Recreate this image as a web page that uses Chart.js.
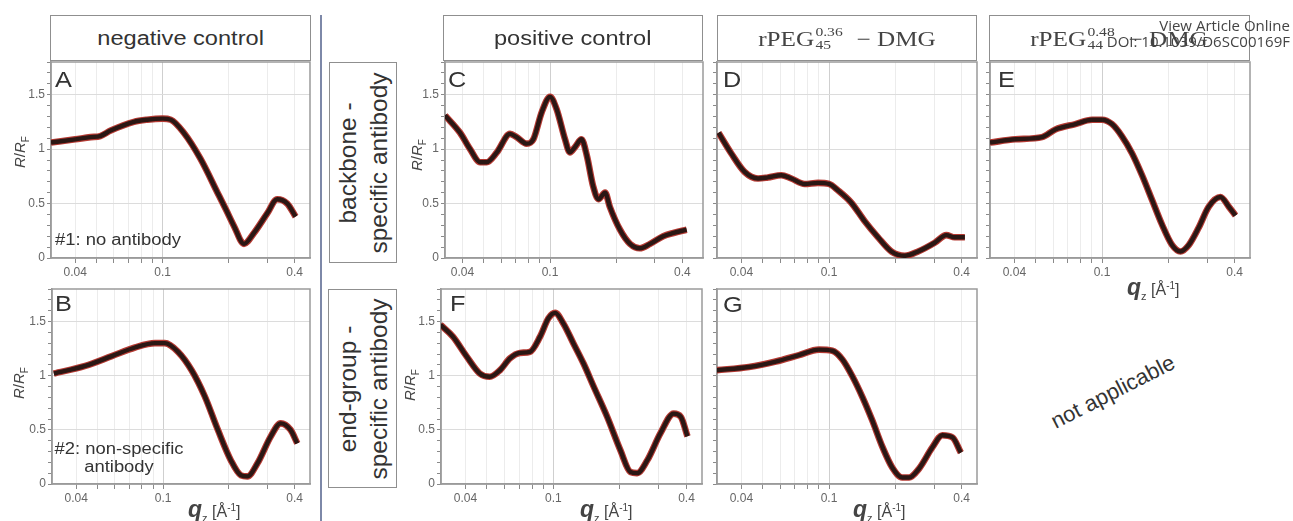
<!DOCTYPE html>
<html><head><meta charset="utf-8">
<script src="https://cdn.jsdelivr.net/npm/chart.js@4.4.1/dist/chart.umd.min.js"></script>
<style>
html,body{margin:0;padding:0;background:#fff}
body{width:1293px;height:521px;position:relative;overflow:hidden;font-family:"Liberation Sans",Arial,sans-serif;color:#333}
canvas{position:absolute}
.hbox{position:absolute;top:15px;height:46px;box-sizing:border-box;border:1.5px solid #8f8f8f;display:flex;align-items:center;justify-content:center;font-size:20px;color:#333;background:#fff}
.hbox .s{display:inline-block;transform:scaleX(1.18)}
.ser{font-family:"Liberation Serif","DejaVu Serif",serif;font-size:21px;color:#444;display:inline-block;transform:scaleX(1.2);white-space:nowrap}
.ss{position:relative;display:inline-block;width:27px;height:21px;margin:0 2px 0 1px}
.ss .sp,.ss .sb{position:absolute;left:0;font-size:13px;line-height:13px}
.ss .sp{top:0px}
.ss .sb{top:13px}
.rbox{position:absolute;box-sizing:border-box;border:1.5px solid #8f8f8f;background:#fff}
.rbox div{position:absolute;left:50%;top:50%;transform:translate(-50%,-50%) rotate(-90deg);text-align:center;font-size:24.5px;line-height:31px;white-space:nowrap;color:#333}
.letter{position:absolute;font-size:22px;line-height:22px;color:#333;transform:scaleX(1.15);transform-origin:left top}
.note{position:absolute;font-size:16px;line-height:18px;color:#333;white-space:nowrap}
.ytitle{position:absolute;font-size:15px;color:#444;transform:translate(-50%,-50%) rotate(-90deg);white-space:nowrap}
.ytitle sub{font-size:10px}
.xtitle{position:absolute;font-size:16px;color:#444;white-space:nowrap;line-height:24px}
.xtitle .q{font-size:23px;font-style:italic;font-weight:bold}
.xtitle sub{font-size:11px}
.xtitle sup{font-size:10px}
.wm{position:absolute;right:3px;top:17px;text-align:right;font-family:"Open Sans","Noto Sans",sans-serif;font-size:15px;line-height:16px;color:#444}
.na{position:absolute;left:1113px;top:392px;transform:translate(-50%,-50%) rotate(-27deg);font-size:22px;color:#333;white-space:nowrap}
.divider{position:absolute;left:320px;top:15px;width:1.5px;height:506px;background:#7d88a8}
</style>
</head><body>
<div id="wrap"></div>
<div class="divider"></div>

<div class="hbox" style="left:50px;width:261px"><span class="s">negative control</span></div>
<div class="hbox" style="left:443px;width:260px"><span class="s">positive control</span></div>
<div class="hbox" style="left:717px;width:260px"><span class="ser">rPEG<span class="ss"><span class="sp">0.36</span><span class="sb">45</span></span> − DMG</span></div>
<div class="hbox" style="left:989px;width:261px"><span class="ser">rPEG<span class="ss"><span class="sp">0.48</span><span class="sb">44</span></span> − DMG</span></div>

<div class="rbox" style="left:329px;top:62px;width:68px;height:201px"><div>backbone -<br>specific antibody</div></div>
<div class="rbox" style="left:328px;top:289px;width:69px;height:199px"><div>end-group -<br>specific antibody</div></div>

<div class="wm">View Article Online<br>DOI: 10.1039/D6SC00169F</div>
<div class="na">not applicable</div>

<script>
// ---------- data ----------
const xTickValues = [0.04, 0.05, 0.06, 0.07, 0.08, 0.09, 0.1, 0.2, 0.3, 0.4];
const xLabelValues = [0.04, 0.1, 0.4];
const xLabelTexts = ['0.04', '0.1', '0.4'];
const yLabelValues = [0, 0.5, 1, 1.5];
const yLabelTexts = ['0', '0.5', '1', '1.5'];

// A: negative control, #1 no antibody
const qA = [0.031, 0.040, 0.047, 0.052, 0.058, 0.074, 0.085, 0.1, 0.109, 0.125, 0.149, 0.178, 0.195, 0.212, 0.235, 0.261, 0.300, 0.333, 0.370, 0.404];
const rA = [1.06, 1.09, 1.11, 1.12, 1.17, 1.25, 1.27, 1.28, 1.27, 1.15, 0.91, 0.60, 0.44, 0.29, 0.13, 0.23, 0.41, 0.54, 0.50, 0.38];
// B: negative control, #2 non-specific antibody
const qB = [0.0316, 0.044, 0.0582, 0.0743, 0.0917, 0.1018, 0.117, 0.135, 0.155, 0.178, 0.204, 0.227, 0.243, 0.270, 0.311, 0.345, 0.383, 0.411];
const rB = [1.02, 1.09, 1.18, 1.26, 1.30, 1.30, 1.22, 1.05, 0.81, 0.50, 0.22, 0.08, 0.07, 0.19, 0.44, 0.56, 0.50, 0.375];
// C: positive control, backbone-specific
const qC = [0.0333, 0.039, 0.0433, 0.0481, 0.0515, 0.0573, 0.0658, 0.0705, 0.0783, 0.084, 0.0917, 0.1, 0.107, 0.117, 0.123, 0.130, 0.139, 0.147, 0.157, 0.166, 0.178, 0.187, 0.208, 0.231, 0.256, 0.285, 0.327, 0.364, 0.418];
const rC = [1.31, 1.15, 1.00, 0.88, 0.88, 0.97, 1.14, 1.11, 1.05, 1.09, 1.34, 1.48, 1.37, 1.09, 0.97, 1.02, 1.09, 0.94, 0.66, 0.54, 0.60, 0.47, 0.26, 0.13, 0.09, 0.13, 0.20, 0.23, 0.26];
// D: rPEG 0.36/45 - DMG, backbone-specific
const qD = [0.0315, 0.036, 0.0414, 0.0476, 0.0528, 0.0607, 0.0674, 0.0775, 0.0891, 0.1, 0.110, 0.126, 0.145, 0.167, 0.192, 0.221, 0.254, 0.302, 0.341, 0.372, 0.414];
const rD = [1.15, 0.96, 0.79, 0.73, 0.74, 0.76, 0.73, 0.68, 0.69, 0.68, 0.62, 0.51, 0.34, 0.19, 0.06, 0.02, 0.06, 0.14, 0.21, 0.19, 0.19];
// E: rPEG 0.48/44 - DMG, backbone-specific
const qE = [0.031, 0.0404, 0.0534, 0.0614, 0.0757, 0.0901, 0.1, 0.111, 0.123, 0.137, 0.152, 0.169, 0.187, 0.208, 0.227, 0.248, 0.275, 0.305, 0.345, 0.377, 0.404];
const rE = [1.06, 1.09, 1.11, 1.18, 1.23, 1.27, 1.27, 1.23, 1.12, 0.96, 0.76, 0.53, 0.31, 0.12, 0.06, 0.12, 0.28, 0.47, 0.56, 0.47, 0.39];
// F: positive control, end-group-specific
const qF = [0.0308, 0.0351, 0.0404, 0.0464, 0.0515, 0.0573, 0.0636, 0.0705, 0.0783, 0.087, 0.0949, 0.1018, 0.111, 0.123, 0.137, 0.152, 0.175, 0.201, 0.223, 0.239, 0.266, 0.305, 0.350, 0.377, 0.404];
const rF = [1.47, 1.36, 1.18, 1.02, 0.99, 1.05, 1.16, 1.21, 1.22, 1.36, 1.53, 1.58, 1.48, 1.30, 1.11, 0.90, 0.62, 0.31, 0.11, 0.10, 0.22, 0.47, 0.65, 0.62, 0.44];
// G: rPEG 0.36/45 - DMG, end-group-specific
const qG = [0.0308, 0.0433, 0.0573, 0.0731, 0.090, 0.1035, 0.115, 0.128, 0.142, 0.157, 0.175, 0.194, 0.215, 0.231, 0.256, 0.295, 0.327, 0.364, 0.397];
const rG = [1.05, 1.08, 1.13, 1.19, 1.24, 1.23, 1.15, 0.99, 0.80, 0.59, 0.34, 0.15, 0.06, 0.06, 0.14, 0.34, 0.45, 0.43, 0.29];

// ---------- layout ----------
const panels = [
  {id:'A', q:qA, r:rA, box:[51,62,310,258], yl:true,  xr:[0.031,0.47]},
  {id:'B', q:qB, r:rB, box:[52,289,310,484], yl:true,  xr:[0.031,0.47]},
  {id:'C', q:qC, r:rC, box:[445,62,703,258], yl:true,  xr:[0.0333,0.496]},
  {id:'D', q:qD, r:rD, box:[717,62,977,258], yl:false, xr:[0.031,0.47]},
  {id:'E', q:qE, r:rE, box:[990,62,1250,258], yl:false, xr:[0.031,0.47]},
  {id:'F', q:qF, r:rF, box:[441,289,702,484], yl:true,  xr:[0.031,0.47]},
  {id:'G', q:qG, r:rG, box:[717,289,977,484], yl:false, xr:[0.031,0.47]}
];
const padL = 50, padT = 10, padR = 6, padB = 30;
const near = (a, b) => Math.abs(a - b) < 1e-9;

const framePlugin = {
  id: 'frame',
  beforeDatasetsDraw(chart) {
    const {ctx, chartArea: a} = chart;
    ctx.save();
    ctx.strokeStyle = '#9a9a9a';
    ctx.lineWidth = 1.5;
    ctx.strokeRect(a.left, a.top, a.right - a.left, a.bottom - a.top);
    ctx.restore();
  }
};

const wrap = document.getElementById('wrap');
panels.forEach(p => {
  const [L, T, R, B] = p.box;
  const cv = document.createElement('canvas');
  const w = (R - L) + padL + padR, h = (B - T) + padT + padB;
  cv.width = w; cv.height = h;
  cv.style.left = (L - padL) + 'px';
  cv.style.top = (T - padT) + 'px';
  cv.style.width = w + 'px'; cv.style.height = h + 'px';
  wrap.appendChild(cv);
  const mk = () => p.q.map((x, i) => ({x: x, y: p.r[i]}));
  new Chart(cv, {
    type: 'line',
    data: {datasets: [
      {label: 'data', data: mk(), borderColor: '#2b1714', borderWidth: 4.4, pointRadius: 0, cubicInterpolationMode: 'monotone', fill: false, order: 1},
      {label: 'fit', data: mk(), borderColor: '#b53a33', borderWidth: 6.6, pointRadius: 0, cubicInterpolationMode: 'monotone', fill: false, order: 2}
    ]},
    options: {
      responsive: false, animation: false, devicePixelRatio: 1,
      layout: {padding: {top: padT, right: padR, left: 0, bottom: 0}},
      plugins: {legend: {display: false}, tooltip: {enabled: false}},
      scales: {
        x: {
          type: 'logarithmic', min: p.xr[0], max: p.xr[1],
          afterBuildTicks: s => { s.ticks = xTickValues.map(v => ({value: v})); },
          afterFit: s => { s.height = padB; },
          ticks: {
            autoSkip: false, maxRotation: 0, minRotation: 0, padding: 2,
            color: '#666', font: {family: 'Liberation Sans', size: 12},
            callback: v => { const i = xLabelValues.findIndex(x => near(x, v)); return i >= 0 ? xLabelTexts[i] : ''; }
          },
          grid: {
            color: c => (c.tick && near(c.tick.value, 0.1)) ? '#cfcfcf' : '#ececec',
            tickColor: '#8a8a8a', tickLength: 5, lineWidth: 1
          },
          border: {color: '#9a9a9a', width: 1.5}
        },
        y: {
          min: 0, max: 1.8,
          afterBuildTicks: s => { const t = []; for (let k = 0; k <= 18; k++) t.push({value: k / 10}); s.ticks = t; },
          afterFit: s => { s.width = padL; },
          ticks: {
            autoSkip: false, padding: 2,
            color: '#666', font: {family: 'Liberation Sans', size: 12},
            callback: v => { if (!p.yl) return ''; const i = yLabelValues.findIndex(x => near(x, v)); return i >= 0 ? yLabelTexts[i] : ''; }
          },
          grid: {
            color: c => (c.tick && c.tick.value > 0 && near(Math.round(c.tick.value * 2) / 2, c.tick.value)) ? '#dcdcdc' : 'rgba(0,0,0,0)',
            tickColor: '#8a8a8a', tickLength: 4, lineWidth: 1
          },
          border: {color: '#9a9a9a', width: 1.5}
        }
      }
    },
    plugins: [framePlugin]
  });
});
</script>

<div class="letter" style="left:55px;top:69px">A</div>
<div class="letter" style="left:55px;top:293px">B</div>
<div class="letter" style="left:448px;top:69px">C</div>
<div class="letter" style="left:723px;top:69px">D</div>
<div class="letter" style="left:998px;top:69px">E</div>
<div class="letter" style="left:450px;top:293px">F</div>
<div class="letter" style="left:723px;top:294px">G</div>

<div class="note" style="left:55px;top:231px;transform:scaleX(1.15);transform-origin:left top">#1: no antibody</div>
<div class="note" style="left:49px;top:440px;width:140px;text-align:center;transform:scaleX(1.15);transform-origin:center top">#2: non-specific<br>antibody</div>

<div class="ytitle" style="left:21px;top:152px"><i>R</i>/<i>R</i><sub>F</sub></div>
<div class="ytitle" style="left:20px;top:383px"><i>R</i>/<i>R</i><sub>F</sub></div>
<div class="ytitle" style="left:418px;top:155px"><i>R</i>/<i>R</i><sub>F</sub></div>
<div class="ytitle" style="left:411px;top:385px"><i>R</i>/<i>R</i><sub>F</sub></div>

<div class="xtitle" style="left:188px;top:496px"><span class="q">q</span><sub>z</sub> [Å<sup>-1</sup>]</div>
<div class="xtitle" style="left:580px;top:496px"><span class="q">q</span><sub>z</sub> [Å<sup>-1</sup>]</div>
<div class="xtitle" style="left:853px;top:496px"><span class="q">q</span><sub>z</sub> [Å<sup>-1</sup>]</div>
<div class="xtitle" style="left:1127px;top:274px"><span class="q">q</span><sub>z</sub> [Å<sup>-1</sup>]</div>
</body></html>
